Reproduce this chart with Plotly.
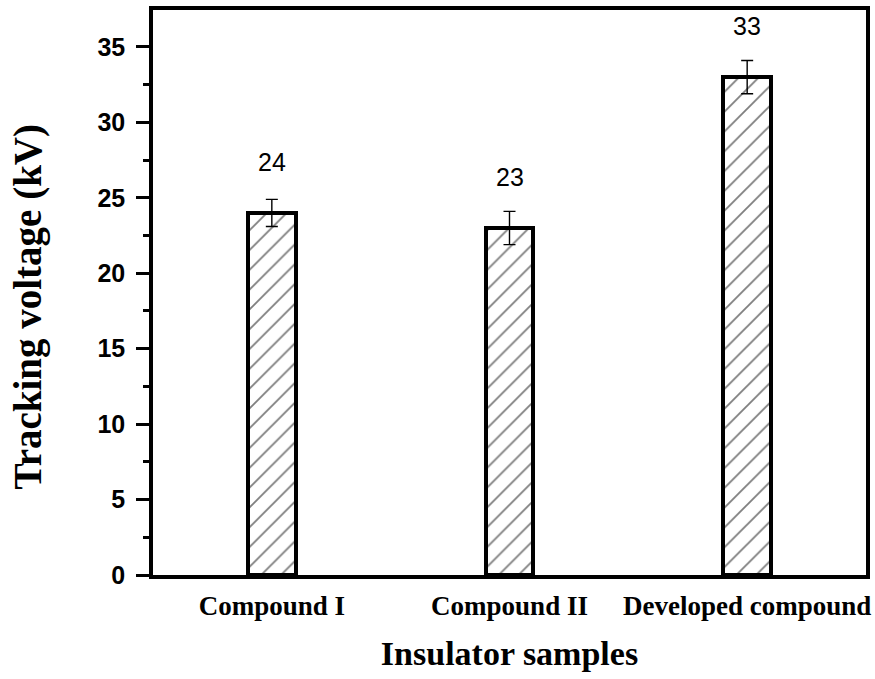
import plotly.graph_objects as go

categories = ["Compound I", "Compound II", "Developed compound"]
values = [24, 23, 33]
errors = [0.9, 1.1, 1.1]
labels = ["24", "23", "33"]
y_ticks = [0, 5, 10, 15, 20, 25, 30, 35]

x_pos = list(range(len(categories)))

fig = go.Figure()
fig.add_trace(go.Bar(
    x=x_pos, y=values, width=0.2,
    marker=dict(color="white", line=dict(color="black", width=4),
                pattern=dict(shape="/", fgcolor="black", bgcolor="white", size=14, solidity=0.13)),
    error_y=dict(type="data", array=errors, visible=True, color="black", thickness=1.4, width=6),
    showlegend=False,
))

for xi, v, t in zip(x_pos, values, labels):
    fig.add_annotation(x=xi, y=v, text=t, showarrow=False, yshift=51,
                       font=dict(family="Liberation Sans, Arial", size=25, color="black"))

fig.add_annotation(x=-0.175, y=0.474, xref="paper", yref="paper", text="Tracking voltage (kV)",
                   textangle=-90, showarrow=False, xanchor="center", yanchor="middle",
                   font=dict(family="Liberation Serif, Times New Roman", size=39, color="black", weight="bold"))

fig.update_layout(
    width=875, height=679,
    margin=dict(l=153, r=9, t=10, b=104, autoexpand=False),
    plot_bgcolor="white", paper_bgcolor="white",
    bargap=0,
)
fig.update_xaxes(
    range=[-0.5, 2.5], tickmode="array", tickvals=x_pos, ticktext=categories,
    showline=True, linecolor="black", linewidth=3.5, mirror=True,
    ticks="", showgrid=False, zeroline=False, ticklabelstandoff=4,
    tickfont=dict(family="Liberation Serif, Times New Roman", size=27, color="black", weight="bold"),
    title=dict(text="Insulator samples", standoff=22,
               font=dict(family="Liberation Serif, Times New Roman", size=34, color="black", weight="bold")),
)
fig.update_yaxes(
    range=[0, 37.45], tickmode="array", tickvals=y_ticks,
    showline=True, linecolor="black", linewidth=3.5, mirror=True,
    ticks="outside", ticklen=13, tickwidth=3, tickcolor="black", ticklabelstandoff=6,
    minor=dict(dtick=2.5, ticks="outside", ticklen=6, tickwidth=3, tickcolor="black"),
    showgrid=False, zeroline=False,
    tickfont=dict(family="Liberation Sans, Arial", size=25, color="black", weight="bold"),
)

fig.write_html("out.html", config={"displayModeBar": False},
               post_script="document.body.style.margin='0px';")
